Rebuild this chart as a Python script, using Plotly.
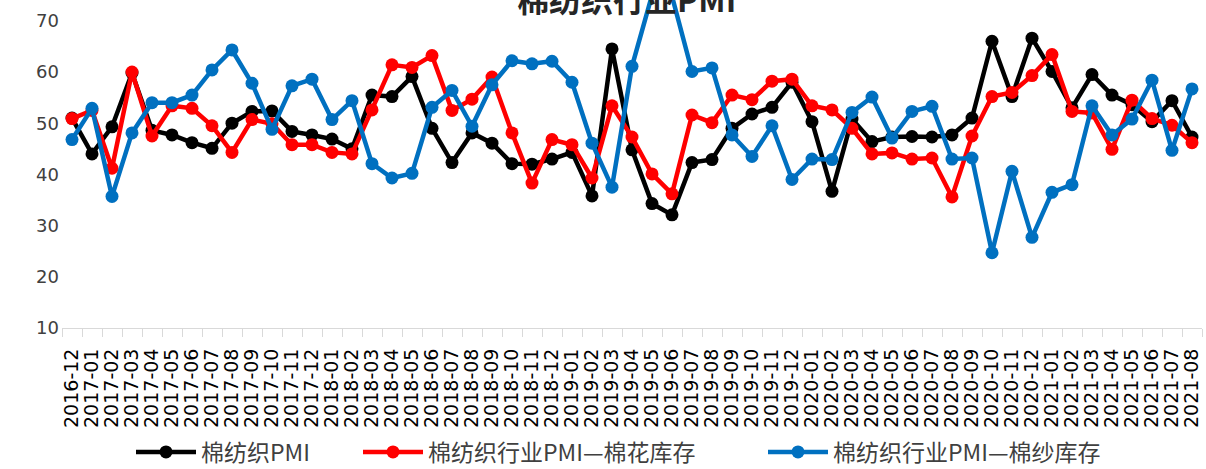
import plotly.graph_objects as go

months = ["2016-12","2017-01","2017-02","2017-03","2017-04","2017-05","2017-06","2017-07","2017-08","2017-09","2017-10","2017-11","2017-12",
          "2018-01","2018-02","2018-03","2018-04","2018-05","2018-06","2018-07","2018-08","2018-09","2018-10","2018-11","2018-12",
          "2019-01","2019-02","2019-03","2019-04","2019-05","2019-06","2019-07","2019-08","2019-09","2019-10","2019-11","2019-12",
          "2020-01","2020-02","2020-03","2020-04","2020-05","2020-06","2020-07","2020-08","2020-09","2020-10","2020-11","2020-12",
          "2021-01","2021-02","2021-03","2021-04","2021-05","2021-06","2021-07","2021-08"]

pmi = [51.0, 44.0, 49.3, 59.8, 48.6, 47.7, 46.2, 45.1, 50.0, 52.3, 52.4, 48.4, 47.7,
       46.9, 45.0, 55.5, 55.2, 59.1, 49.0, 42.3, 48.1, 46.1, 42.1, 42.0, 43.0,
       44.3, 35.8, 64.5, 44.8, 34.3, 32.1, 42.3, 42.9, 49.0, 51.8, 53.1, 58.0,
       50.3, 36.7, 50.8, 46.4, 47.3, 47.4, 47.3, 47.7, 51.0, 66.0, 55.2, 66.6,
       60.1, 53.0, 59.5, 55.5, 53.6, 50.3, 54.4, 47.3]

pmi_cotton = [50.9, 52.5, 41.2, 60.0, 47.5, 53.4, 52.9, 49.5, 44.3, 50.7, 49.9, 45.8, 45.8,
              44.3, 44.0, 52.6, 61.4, 60.9, 63.2, 52.5, 54.7, 59.0, 48.1, 38.3, 46.8,
              45.8, 39.3, 53.4, 47.3, 40.1, 36.2, 51.6, 50.1, 55.5, 54.6, 58.2, 58.6,
              53.4, 52.6, 49.0, 44.0, 44.2, 43.0, 43.2, 35.6, 47.5, 55.2, 56.0, 59.3,
              63.4, 52.3, 52.0, 44.9, 54.5, 50.9, 49.6, 46.2]

pmi_yarn = [46.8, 52.9, 35.7, 48.1, 54.0, 54.0, 55.5, 60.4, 64.3, 57.8, 48.8, 57.3, 58.6,
            50.7, 54.4, 42.1, 39.3, 40.2, 53.1, 56.4, 49.4, 57.5, 62.2, 61.6, 62.1,
            58.0, 46.1, 37.5, 61.1, 75.0, 74.8, 60.1, 60.8, 47.7, 43.5, 49.5, 39.0,
            43.0, 42.9, 52.1, 55.1, 47.1, 52.3, 53.3, 43.0, 43.2, 24.7, 40.6, 27.7,
            36.5, 38.0, 53.4, 47.7, 50.8, 58.4, 44.7, 56.7]

y_ticks = [10, 20, 30, 40, 50, 60, 70]
title_text = "棉纺织行业PMI"

series = [
    ("棉纺织PMI", pmi, "#000000", "legend", 131),
    ("棉纺织行业PMI—棉花库存", pmi_cotton, "#FF0000", "legend2", 358),
    ("棉纺织行业PMI—棉纱库存", pmi_yarn, "#0070C0", "legend3", 763),
]

L, R, T, B = 62, 4, 0, 141
W, H = 1206, 469
PW = W - L - R
PH = H - T - B

fig = go.Figure()
legends = {}
for name, vals, col, lg, px in series:
    fig.add_trace(go.Scatter(
        x=months, y=vals, name=name, mode="lines+markers",
        line=dict(color=col, width=4.5),
        marker=dict(color=col, size=13),
        cliponaxis=False, legend=lg,
    ))
    legends[lg] = dict(orientation="h", x=(px - L) / PW, xanchor="left",
                       y=-(452 - PH) / PH, yanchor="middle",
                       font=dict(family="Noto Sans CJK SC", size=23, color="#404040"),
                       itemwidth=60, bgcolor="rgba(0,0,0,0)", borderwidth=0)

fig.update_layout(
    width=W, height=H,
    margin=dict(l=L, r=R, t=T, b=B, autoexpand=False),
    plot_bgcolor="white", paper_bgcolor="white",
    showlegend=True,
    xaxis=dict(type="category", range=[-0.5, len(months) - 0.5], automargin=False,
               tickmode="array", tickvals=months, ticktext=months,
               tickangle=-90, tickson="boundaries", ticks="outside", ticklen=8,
               tickcolor="#D9D9D9", showline=True, linecolor="#D9D9D9", linewidth=1,
               showgrid=False, zeroline=False, ticklabelstandoff=12,
               tickfont=dict(family="DejaVu Sans", size=19, color="#000000")),
    yaxis=dict(range=[10, 74.06], tickvals=y_ticks, automargin=False,
               showgrid=False, zeroline=False, showline=False, ticks="",
               ticklabelstandoff=2,
               tickfont=dict(family="DejaVu Sans", size=18, color="#404040")),
    annotations=[dict(text="<b>" + title_text + "</b>", xref="paper", yref="paper",
                      x=(626 - L) / PW, y=1 + 2 / PH, xanchor="center", yanchor="middle",
                      showarrow=False,
                      font=dict(family="Noto Sans CJK SC", size=32, color="#262626"))],
    **legends,
)

fig.write_html("out.html", config={"displayModeBar": False},
               post_script="document.body.style.margin='0';document.body.style.overflow='hidden';")
